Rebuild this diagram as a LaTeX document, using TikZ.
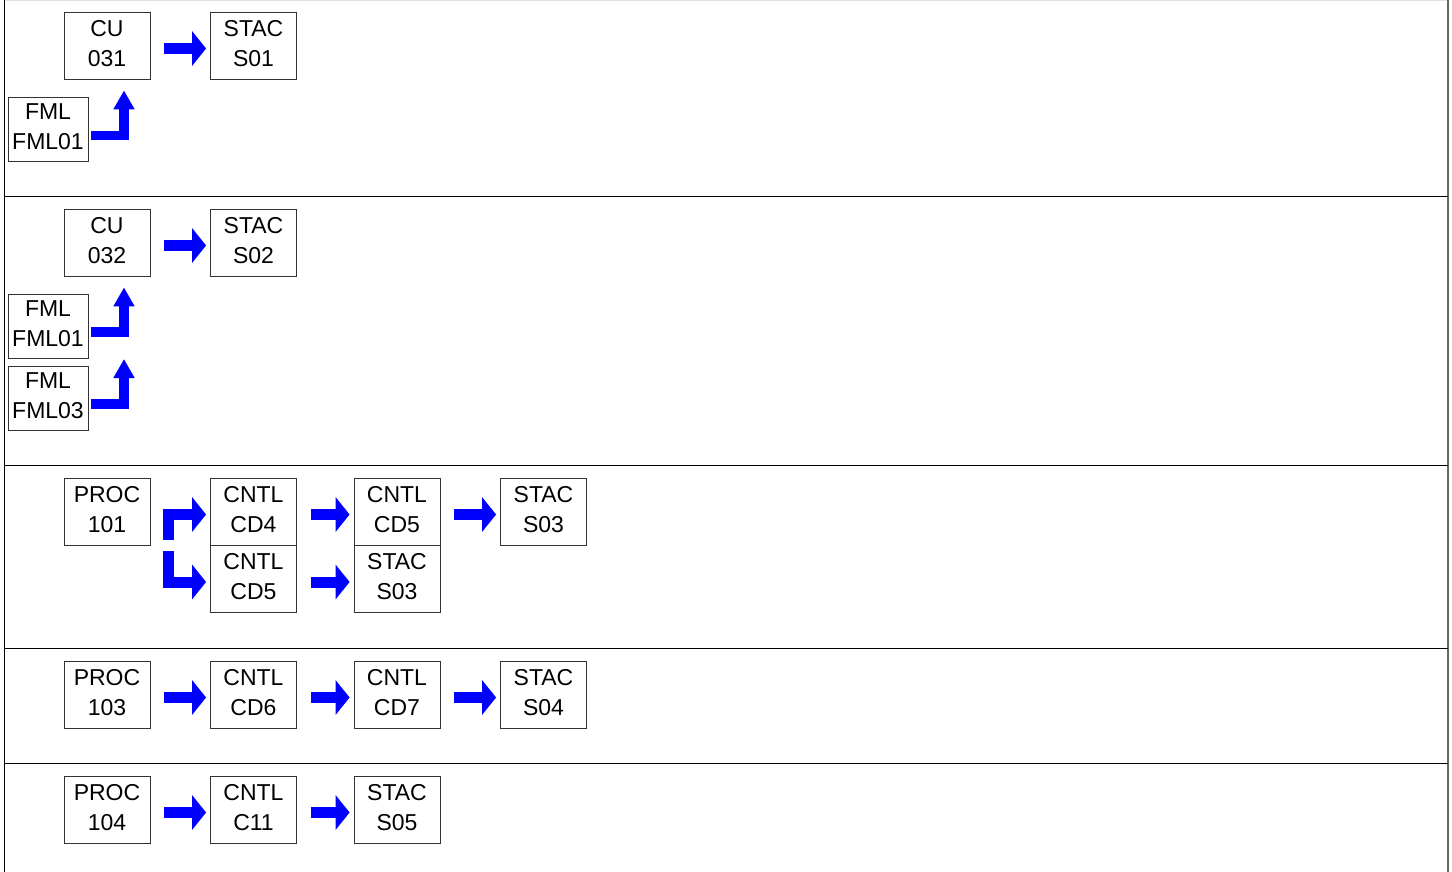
\documentclass[tikz,border=0pt]{standalone}
\usepackage{fontspec}
\setmainfont{Liberation Sans}
\usetikzlibrary{arrows.meta}
\tikzset{
  item/.style={draw=black!80, line width=0.8pt, minimum width=86pt, minimum height=67pt, inner sep=0pt, align=center, font=\fontsize{23}{30}\selectfont, execute at end node={\vphantom{g}}},
  feed item/.style={item, minimum width=80pt, minimum height=64pt},
  flow/.style={draw=blue, line width=11pt, arrows={-{Triangle[length=14pt,width=34pt]}}},
  feed/.style={draw=blue, line width=9.5pt, arrows={-{Triangle[length=19pt,width=20pt]}}},
  band/.style={draw=black, line width=1pt}
}
\begin{document}
\begin{tikzpicture}[x=1pt,y=-1pt]
  \useasboundingbox (0,0) rectangle (1452,872);
  \draw[black!12, line width=1pt] (4.5,0.5) -- (1448,0.5);
  \draw[black, line width=1.5pt] (4.5,0) -- (4.5,872);
  \draw[black!60, line width=2pt] (1448,0) -- (1448,872);
  \foreach \y in {196.5,465,648,763}
    \draw[band] (4.5,\y) -- (1448,\y);

  % row 1
  \node[item] at (107,45.5) (cu031) {CU\\031};
  \node[item] at (253.5,45.5) (stacS01) {STAC\\S01};
  \node[feed item] at (48,129) (fml01) {FML\\FML01};
  \draw[flow] ([xshift=14pt,yshift=-3pt]cu031.east) -- ([xshift=-4pt,yshift=-3pt]stacS01.west);
  \draw[feed] ([xshift=3pt,yshift=-6.5pt]fml01.east) -| ([xshift=17pt,yshift=-11pt]cu031.south);

  % row 2
  \node[item] at (107,242.5) (cu032) {CU\\032};
  \node[item] at (253.5,242.5) (stacS02) {STAC\\S02};
  \node[feed item] at (48,326) (fml01b) {FML\\FML01};
  \node[feed item] at (48,398) (fml03) {FML\\FML03};
  \coordinate (fml03 tip) at (124,359);
  \draw[flow] ([xshift=14pt,yshift=-3pt]cu032.east) -- ([xshift=-4pt,yshift=-3pt]stacS02.west);
  \draw[feed] ([xshift=3pt,yshift=-6pt]fml01b.east) -| ([xshift=17pt,yshift=-11pt]cu032.south);
  \draw[feed] ([xshift=3pt,yshift=-6pt]fml03.east) -| (fml03 tip);

  % row 3
  \node[item] at (107,511.5) (proc101) {PROC\\101};
  \node[item] at (253.5,511.5) (cntlCD4) {CNTL\\CD4};
  \node[item] at (253.5,579) (cntlCD5) {CNTL\\CD5};
  \node[item] at (397,511.5) (cntlCD5b) {CNTL\\CD5};
  \node[item] at (397,579) (stacS03) {STAC\\S03};
  \node[item] at (543.5,511.5) (stacS03b) {STAC\\S03};
  \coordinate (split up) at (168,540);
  \coordinate (split down) at (168,551);
  \draw[flow] (split up) |- ([xshift=-4pt,yshift=-3pt]cntlCD4.west);
  \draw[flow] (split down) |- ([xshift=-4pt,yshift=-3pt]cntlCD5.west);
  \draw[flow] ([xshift=14pt,yshift=-3pt]cntlCD4.east) -- ([xshift=-4pt,yshift=-3pt]cntlCD5b.west);
  \draw[flow] ([xshift=14pt,yshift=-3pt]cntlCD5.east) -- ([xshift=-4pt,yshift=-3pt]stacS03.west);
  \draw[flow] ([xshift=14pt,yshift=-3pt]cntlCD5b.east) -- ([xshift=-4pt,yshift=-3pt]stacS03b.west);

  % row 4
  \node[item] at (107,694.5) (proc103) {PROC\\103};
  \node[item] at (253.5,694.5) (cntlCD6) {CNTL\\CD6};
  \node[item] at (397,694.5) (cntlCD7) {CNTL\\CD7};
  \node[item] at (543.5,694.5) (stacS04) {STAC\\S04};
  \draw[flow] ([xshift=14pt,yshift=-3pt]proc103.east) -- ([xshift=-4pt,yshift=-3pt]cntlCD6.west);
  \draw[flow] ([xshift=14pt,yshift=-3pt]cntlCD6.east) -- ([xshift=-4pt,yshift=-3pt]cntlCD7.west);
  \draw[flow] ([xshift=14pt,yshift=-3pt]cntlCD7.east) -- ([xshift=-4pt,yshift=-3pt]stacS04.west);

  % row 5
  \node[item] at (107,809.5) (proc104) {PROC\\104};
  \node[item] at (253.5,809.5) (cntlC11) {CNTL\\C11};
  \node[item] at (397,809.5) (stacS05) {STAC\\S05};
  \draw[flow] ([xshift=14pt,yshift=-3pt]proc104.east) -- ([xshift=-4pt,yshift=-3pt]cntlC11.west);
  \draw[flow] ([xshift=14pt,yshift=-3pt]cntlC11.east) -- ([xshift=-4pt,yshift=-3pt]stacS05.west);
\end{tikzpicture}
\end{document}
